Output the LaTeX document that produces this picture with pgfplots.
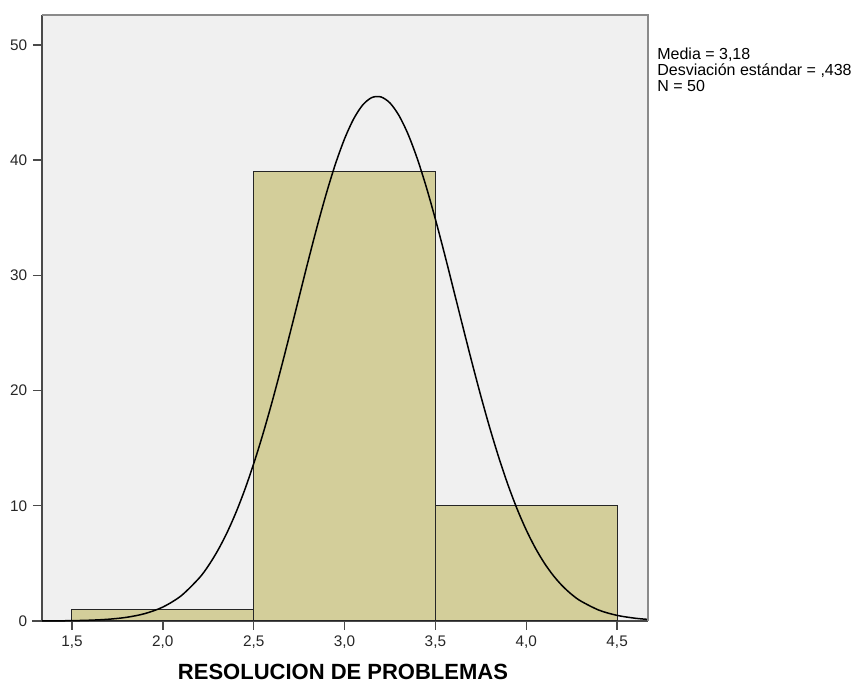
\documentclass[border=0pt]{standalone}
\usepackage{fontspec}
\setmainfont{Liberation Sans}
\usepackage{pgfplots}
\pgfplotsset{compat=1.18}

\definecolor{plotbg}{HTML}{F0F0F0}
\definecolor{barfill}{HTML}{D3CE9A}
\definecolor{axisdark}{HTML}{4A4A4A}
\definecolor{framegray}{HTML}{8A8A8A}

\begin{document}
\begin{tikzpicture}[x=0.6pt,y=0.6pt]
\useasboundingbox (0,0) rectangle (854,683);
\begin{axis}[
  at={(42*0.6pt,62*0.6pt)}, anchor=south west,
  scale only axis, width=606*0.6pt, height=606*0.6pt,
  xmin=1.335, xmax=4.67, ymin=0, ymax=52.6,
  axis lines=left,
  axis line style={-, axisdark, line width=1.2pt},
  axis background/.style={fill=plotbg},
  clip=false,
  tick align=outside,
  major tick length=5.4pt,
  tick style={axisdark, line width=0.8pt},
  xtick={1.5,2.0,...,4.5},
  ytick={0,10,...,50},
  x tick label style={/pgf/number format/.cd, use comma, fixed, fixed zerofill, precision=1},
  /pgf/number format/assume math mode=true,
  ticklabel style={font=\fontsize{9.2}{10}\selectfont, text=black!85},
]
% histogram bars
\addplot[ybar interval, fill=barfill, draw=black!85, line width=0.6pt]
  coordinates {(1.5,1) (2.5,39) (3.5,10) (4.5,10)};
% normal curve (mean 3.18, sd 0.438, N = 50)
\addplot[black, line width=0.9pt, smooth, tension=0.5] coordinates {
  (1.335,0.0064) (1.4,0.0118) (1.5,0.0291) (1.6,0.0681) (1.7,0.151)
  (1.8,0.318) (1.9,0.637) (2.0,1.209) (2.1,2.178) (2.2,3.727)
  (2.25,4.780) (2.3,6.053) (2.35,7.561) (2.4,9.327) (2.45,11.356)
  (2.5,13.65) (2.55,16.186) (2.6,18.95) (2.65,21.901) (2.7,24.98)
  (2.75,28.126) (2.8,31.26) (2.85,34.288) (2.9,37.12) (2.95,39.675)
  (3.0,41.85) (3.05,43.578) (3.1,44.79) (3.15,45.433) (3.2,45.49)
  (3.25,44.962) (3.3,43.86) (3.35,42.236) (3.4,40.14) (3.45,37.660)
  (3.5,34.87) (3.55,31.874) (3.6,28.75) (3.65,25.607) (3.7,22.51)
  (3.75,19.528) (3.8,16.72) (3.85,14.135) (3.9,11.79) (3.95,9.711)
  (4.0,7.897) (4.05,6.335) (4.1,5.015) (4.15,3.921) (4.2,3.025)
  (4.25,2.303) (4.3,1.732) (4.4,0.941) (4.5,0.4856) (4.6,0.2378)
  (4.67,0.1399)};
% top and right frame
\draw[framegray, line width=1pt] (rel axis cs:0,1) -- (rel axis cs:1,1) -- (rel axis cs:1,0);
% left extension of the horizontal axis
\draw[axisdark, line width=1.2pt] (rel axis cs:-0.016,0) -- (rel axis cs:0,0);
\end{axis}
% summary statistics
\begin{scope}[font=\fontsize{9.6}{10}\selectfont]
\node[anchor=base west, inner sep=0] at (657,683-60) {Media = 3,18};
\node[anchor=base west, inner sep=0] at (657,683-76) {Desviación estándar = ,438};
\node[anchor=base west, inner sep=0] at (657,683-92) {N = 50};
\end{scope}
% axis title
\node[anchor=base, inner sep=0, font=\fontsize{13.2}{15}\selectfont\bfseries] at (343,3.5) {RESOLUCION DE PROBLEMAS};
\end{tikzpicture}
\end{document}
